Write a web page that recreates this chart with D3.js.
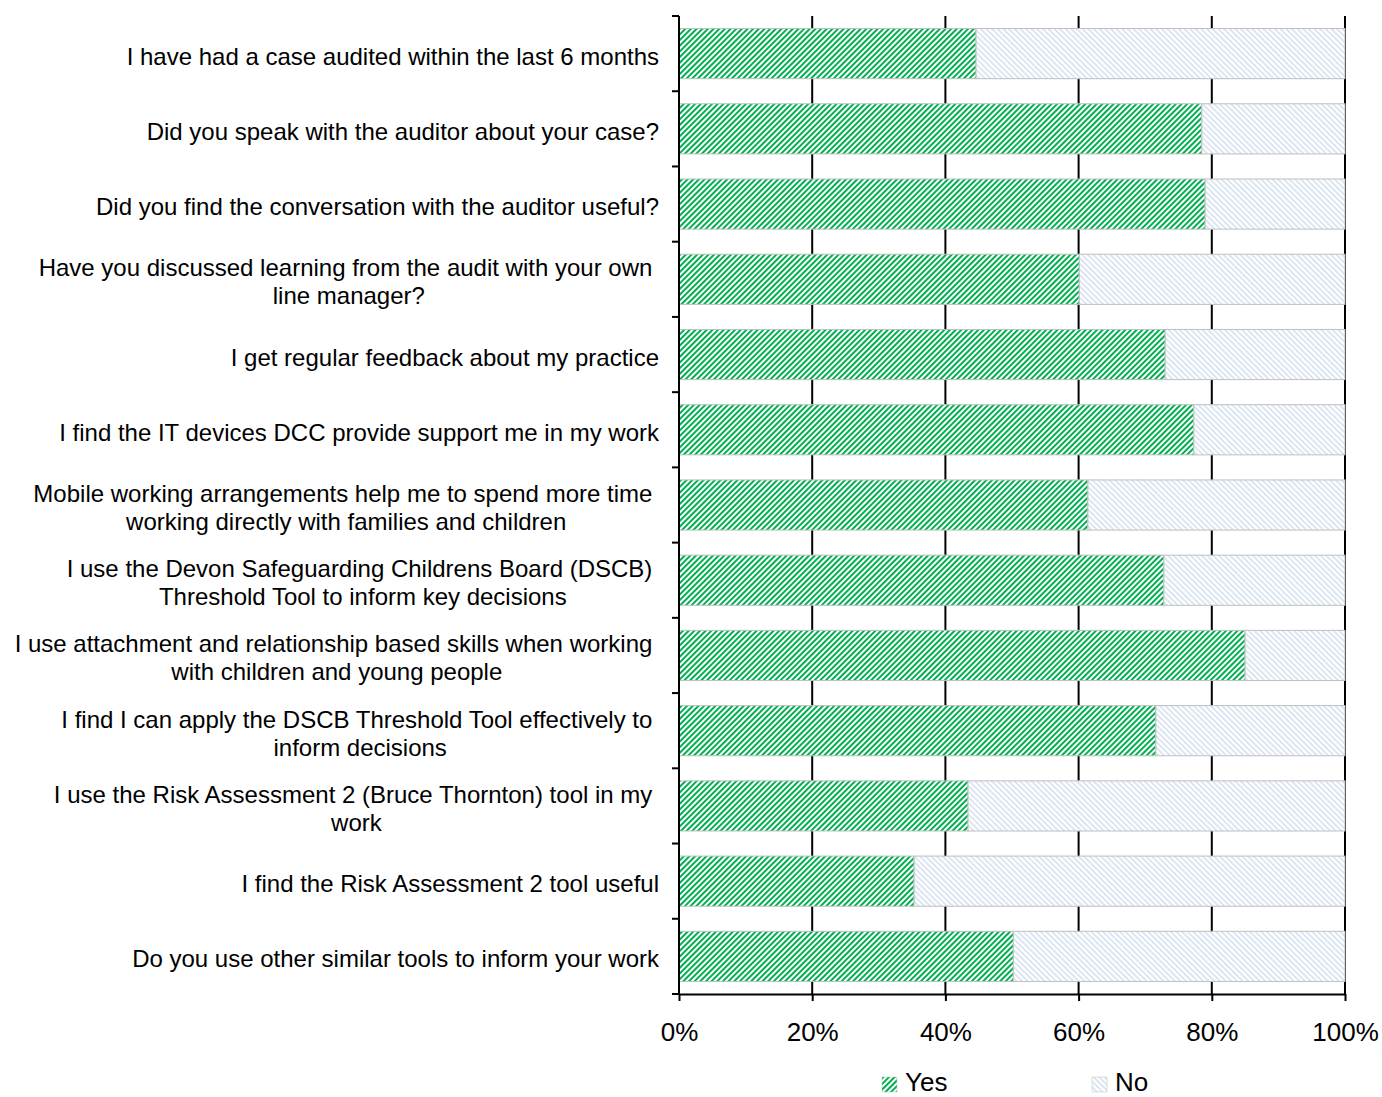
<!DOCTYPE html>
<html>
<head>
<meta charset="utf-8">
<script src="https://cdn.jsdelivr.net/npm/d3@7"></script>
<style>
  body { margin: 0; background: #fff; }
  svg { display: block; font-family: "Liberation Sans", Arial, sans-serif; }
</style>
</head>
<body>
<div id="chart"></div>
<script>
// data
const questions = [
  "I have had a case audited within the last 6 months",
  "Did you speak with the auditor about your case?",
  "Did you find the conversation with the auditor useful?",
  "Have you discussed learning from the audit with your own |line manager?",
  "I get regular feedback about my practice",
  "I find the IT devices DCC provide support me in my work",
  "Mobile working arrangements help me to spend more time |working directly with families and children",
  "I use the Devon Safeguarding Childrens Board (DSCB) |Threshold Tool to inform key decisions",
  "I use attachment and relationship based skills when working |with children and young people",
  "I find I can apply the DSCB Threshold Tool effectively to |inform decisions",
  "I use the Risk Assessment 2 (Bruce Thornton) tool in my |work",
  "I find the Risk Assessment 2 tool useful",
  "Do you use other similar tools to inform your work"
];
const yesPct = [44.6, 78.5, 79.0, 60.1, 73.0, 77.3, 61.4, 72.8, 85.0, 71.6, 43.4, 35.3, 50.2];
const noPct = yesPct.map(v => 100 - v);
const seriesNames = ["Yes", "No"];
const xTicks = [0, 20, 40, 60, 80, 100];

const W = 1382, H = 1097;
const LEFT = 679, RIGHT = 1345, TOP = 16, BOTTOM = 994;

const svg = d3.select("#chart").append("svg")
  .attr("width", W).attr("height", H);

const defs = svg.append("defs");
function stripes(id, color, angle, size, lw) {
  const p = defs.append("pattern")
    .attr("id", id)
    .attr("patternUnits", "userSpaceOnUse")
    .attr("width", size).attr("height", size)
    .attr("patternTransform", `rotate(${angle})`);
  p.append("rect").attr("width", size).attr("height", size).attr("fill", "#fff");
  p.append("rect").attr("width", lw).attr("height", size).attr("fill", color);
}
stripes("pYes", "#00b050", 45, 4, 2);
stripes("pNo", "#dce6f2", -45, 4, 2);
const fills = ["url(#pYes)", "url(#pNo)"];

const x = d3.scaleLinear().domain([0, 100]).range([LEFT, RIGHT]);
const y = d3.scaleBand().domain(d3.range(questions.length))
  .range([TOP, BOTTOM]).paddingInner(1/3).paddingOuter(1/6);

// gridlines (behind bars)
svg.append("g").selectAll("line")
  .data(xTicks.slice(1))
  .join("line")
  .attr("x1", d => x(d)).attr("x2", d => x(d))
  .attr("y1", TOP).attr("y2", BOTTOM)
  .attr("stroke", "#000").attr("stroke-width", 2);

// stacked bars
const rows = questions.map((q, i) => ({ i, Yes: yesPct[i], No: noPct[i] }));
const stack = d3.stack().keys(seriesNames)(rows);
svg.append("g").selectAll("g")
  .data(stack)
  .join("g")
  .attr("fill", (d, k) => fills[k])
  .selectAll("rect")
  .data(d => d)
  .join("rect")
  .attr("x", d => x(d[0]))
  .attr("width", d => x(d[1]) - x(d[0]))
  .attr("y", d => y(d.data.i))
  .attr("height", y.bandwidth())
  .attr("stroke", "#bfbfbf")
  .attr("stroke-width", 1);

// y axis
svg.append("line")
  .attr("x1", LEFT).attr("x2", LEFT).attr("y1", TOP).attr("y2", BOTTOM)
  .attr("stroke", "#000").attr("stroke-width", 2);
const step = y.step();
svg.append("g").selectAll("line")
  .data(d3.range(questions.length + 1))
  .join("line")
  .attr("x1", LEFT - 7).attr("x2", LEFT)
  .attr("y1", d => TOP + d * step).attr("y2", d => TOP + d * step)
  .attr("stroke", "#000").attr("stroke-width", 2);

// category labels
const labelG = svg.append("g").attr("font-size", 24).attr("fill", "#000");
questions.forEach((q, i) => {
  const lines = q.split("|");
  const cy = y(i) + y.bandwidth() / 2;
  const rightEdge = 659;
  if (lines.length === 1) {
    labelG.append("text")
      .attr("x", rightEdge).attr("y", cy + 11)
      .attr("text-anchor", "end").text(lines[0]);
  } else {
    const t1 = labelG.append("text").attr("y", cy - 3).attr("text-anchor", "middle")
      .attr("xml:space", "preserve").text(lines[0]);
    const w1 = t1.node().getComputedTextLength();
    const cx = rightEdge - w1 / 2;
    t1.attr("x", cx);
    labelG.append("text").attr("x", cx).attr("y", cy + 25)
      .attr("text-anchor", "middle").text(lines[1]);
  }
});

// x axis
const xAxis = svg.append("g").attr("transform", `translate(0,${BOTTOM})`)
  .call(d3.axisBottom(x).tickValues(xTicks).tickFormat(d => d + "%")
    .tickSize(7).tickSizeOuter(0).tickPadding(22));
xAxis.select(".domain").attr("stroke-width", 2);
xAxis.selectAll(".tick line").attr("stroke-width", 2);
xAxis.selectAll("text").attr("font-size", 26).attr("font-family", "Liberation Sans, Arial, sans-serif");

// legend
const legendX = [882, 1092];
const legend = svg.append("g").selectAll("g")
  .data(seriesNames)
  .join("g")
  .attr("transform", (d, k) => `translate(${legendX[k]},1077)`);
legend.append("rect")
  .attr("width", 15).attr("height", 15)
  .attr("fill", (d, k) => fills[k])
  .attr("stroke", "#bfbfbf").attr("stroke-width", 0.5);
legend.append("text")
  .attr("x", 23).attr("y", 14)
  .attr("font-size", 26)
  .text(d => d);
</script>
</body>
</html>
